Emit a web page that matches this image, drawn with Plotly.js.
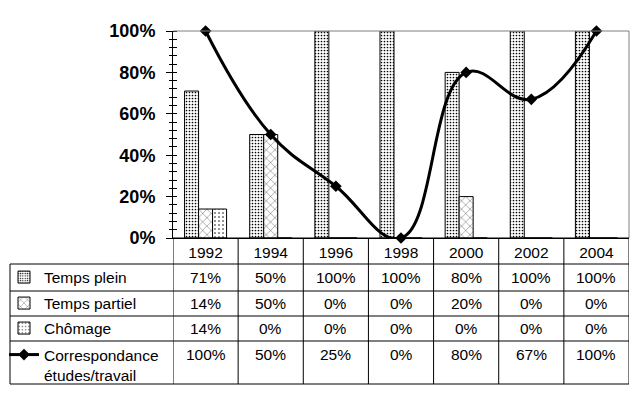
<!DOCTYPE html>
<html>
<head>
<meta charset="utf-8">
<script src="https://cdn.plot.ly/plotly-3.0.1.min.js"></script>
<style>html,body{margin:0;padding:0;background:#fff;}#chart{width:639px;height:399px;}</style>
</head>
<body>
<div id="chart"></div>
<script>
const years = ['1992','1994','1996','1998','2000','2002','2004'];
const tempsPlein = [0.71, 0.50, 1.00, 1.00, 0.80, 1.00, 1.00];
const tempsPartiel = [0.14, 0.50, 0.00, 0.00, 0.20, 0.00, 0.00];
const chomage = [0.14, 0.00, 0.00, 0.00, 0.00, 0.00, 0.00];
const correspondance = [1.00, 0.50, 0.25, 0.00, 0.80, 0.67, 1.00];
const seriesNames = ['Temps plein', 'Temps partiel', 'Chômage', 'Correspondance<br>études/travail'];

const W = 639, H = 399;
const L = 173, R = 10, T = 31, B = 161;
const plotW = W - L - R, plotH = H - T - B;
const py = p => (H - B - p) / plotH;      // pixel y -> paper y
const px = p => (p - L) / plotW;          // pixel x -> paper x

const FONT = '"Liberation Sans", Arial, sans-serif';
const fs = 15.5;

const pat = (shape, size, solidity) => ({shape: shape, size: size, solidity: solidity, fgcolor: '#000', bgcolor: '#fff', fillmode: 'replace'});

const traces = [
  {type: 'bar', name: seriesNames[0], x: years, y: tempsPlein, legend: 'legend',
   marker: {color: '#fff', line: {color: '#000', width: 1}, pattern: pat('.', 3, 0.25)}},
  {type: 'bar', name: seriesNames[1], x: years, y: tempsPartiel, legend: 'legend2',
   marker: {color: '#fff', line: {color: '#000', width: 1}, pattern: pat('x', 6, 0.1)}},
  {type: 'bar', name: seriesNames[2], x: years, y: chomage, legend: 'legend3',
   marker: {color: '#fff', line: {color: '#000', width: 1}, pattern: pat('.', 4, 0.12)}},
  {type: 'scatter', mode: 'lines+markers', name: seriesNames[3], x: years, y: correspondance, legend: 'legend4',
   line: {color: '#000', width: 3, shape: 'spline', smoothing: 1.2}, cliponaxis: false,
   marker: {symbol: 'diamond', size: 9, color: '#000'}},
  // overlay axis for the outer half of crossing minor ticks
  {type: 'scatter', x: years, y: correspondance, yaxis: 'y2', mode: 'none', showlegend: false, hoverinfo: 'skip'}
];

const rowLines = [238, 264, 291, 316, 341, 384];
const rowCenters = [277.5, 303.5, 328.5, 354];
const shapes = [];
// plot border top & right (gray)
shapes.push({type: 'line', xref: 'paper', yref: 'paper', x0: 0, x1: 1, y0: 1, y1: 1, line: {color: '#808080', width: 1}});
shapes.push({type: 'line', xref: 'paper', yref: 'paper', x0: 1, x1: 1, y0: 0, y1: 1, line: {color: '#808080', width: 1}});
// table horizontal lines
rowLines.forEach((r, i) => {
  shapes.push({type: 'line', xref: 'paper', yref: 'paper', x0: i === 0 ? 0 : px(10), x1: 1, y0: py(r), y1: py(r), line: {color: '#000', width: 1}});
});
// table vertical lines at category boundaries
for (let k = 0; k <= years.length; k++) {
  shapes.push({type: 'line', xref: 'x', yref: 'paper', x0: k - 0.5, x1: k - 0.5, y0: py(238), y1: py(384), line: {color: '#000', width: 1}});
}
shapes.push({type: 'line', xref: 'paper', yref: 'paper', x0: px(10), x1: px(10), y0: py(264), y1: py(384), line: {color: '#000', width: 1}});

const fmt = v => Math.round(v * 100) + '%';
const annotations = [];
[tempsPlein, tempsPartiel, chomage, correspondance].forEach((arr, r) => {
  arr.forEach((v, i) => {
    annotations.push({xref: 'x', yref: 'paper', x: i, y: py(rowCenters[r]), text: fmt(v), showarrow: false,
      xanchor: 'center', yanchor: 'middle', font: {family: FONT, size: fs, color: '#000'}});
  });
});

const legBase = {bgcolor: 'rgba(0,0,0,0)', borderwidth: 0, font: {family: FONT, size: fs, color: '#000'},
  xanchor: 'left', itemwidth: 30, itemclick: false, itemdoubleclick: false};
const layout = {
  width: W, height: H,
  margin: {l: L, r: R, t: T, b: B, pad: 0, autoexpand: false},
  paper_bgcolor: '#fff', plot_bgcolor: '#fff',
  font: {family: FONT, color: '#000'},
  barmode: 'group', bargap: 0.355, bargroupgap: 0,
  showlegend: true,
  legend: Object.assign({}, legBase, {x: px(4), y: py(rowCenters[0]), yanchor: 'middle'}),
  legend2: Object.assign({}, legBase, {x: px(4), y: py(rowCenters[1]), yanchor: 'middle'}),
  legend3: Object.assign({}, legBase, {x: px(4), y: py(rowCenters[2]), yanchor: 'middle'}),
  legend4: Object.assign({}, legBase, {x: px(4), y: py(338), yanchor: 'top', valign: 'top'}),
  xaxis: {type: 'category', range: [-0.5, years.length - 0.5], showgrid: false, zeroline: false,
    showline: true, linecolor: '#000', linewidth: 1, ticks: '', ticklabelstandoff: 0,
    tickfont: {family: FONT, size: fs, color: '#000'}, fixedrange: true},
  yaxis: {range: [0, 1], tickformat: '.0%', dtick: 0.2, showgrid: false, zeroline: false,
    showline: true, linecolor: '#000', linewidth: 1, ticks: 'outside', ticklen: 6, tickcolor: '#000',
    ticklabelstandoff: 7,
    minor: {dtick: 0.04, ticks: 'inside', ticklen: 4, tickcolor: '#000', showgrid: false},
    tickfont: {family: FONT, size: 18, color: '#000', weight: 'bold'}, fixedrange: true},
  yaxis2: {overlaying: 'y', side: 'left', range: [0, 1], showgrid: false, zeroline: false, showline: false,
    showticklabels: false, ticks: '', dtick: 0.2,
    minor: {dtick: 0.04, ticks: 'outside', ticklen: 3, tickcolor: '#000', showgrid: false}, fixedrange: true},
  shapes: shapes,
  annotations: annotations
};

Plotly.newPlot('chart', traces, layout, {displayModeBar: false, staticPlot: true});
</script>
</body>
</html>
